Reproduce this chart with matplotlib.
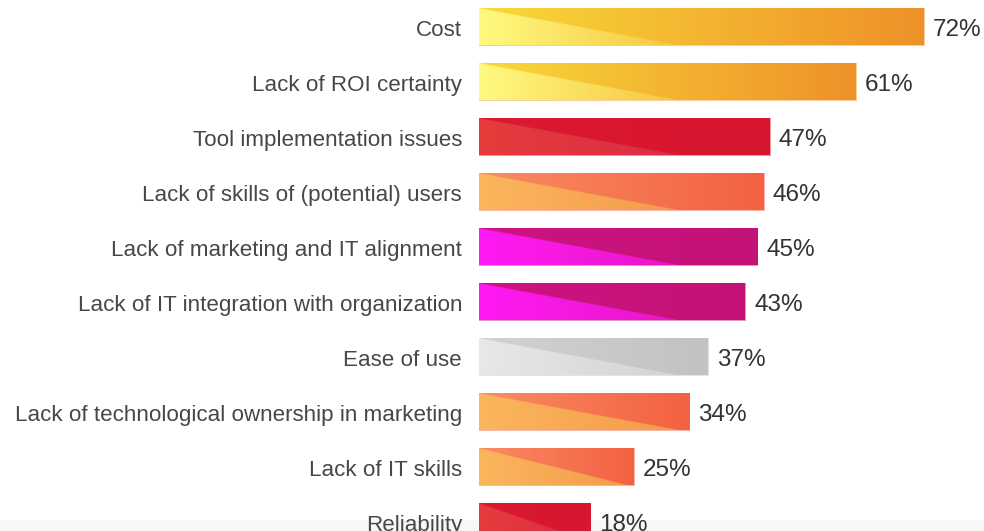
import numpy as np
import matplotlib.pyplot as plt
from matplotlib.colors import to_rgb
from matplotlib.patches import Rectangle

labels = ['Cost', 'Lack of ROI certainty', 'Tool implementation issues',
          'Lack of skills of (potential) users', 'Lack of marketing and IT alignment',
          'Lack of IT integration with organization', 'Ease of use',
          'Lack of technological ownership in marketing', 'Lack of IT skills',
          'Reliability']
values = [72, 61, 47, 46, 45, 43, 37, 34, 25, 18]
groups = ['yellow', 'yellow', 'red', 'peach', 'magenta', 'magenta', 'gray',
          'peach', 'peach', 'red']

# (topo inicio, topo fim, triangulo inicio, triangulo fim)
palette = {
    'yellow': ('#f9d93a', '#ee9128', '#fffa80', '#f6c640'),
    'red': ('#da1a30', '#d7162f', '#e63c3b', '#dc2c46'),
    'peach': ('#f98c62', '#f36142', '#fbb65c', '#f59b4c'),
    'magenta': ('#cd1282', '#c31377', '#ff1af4', '#e818c6'),
    'gray': ('#d2d2d2', '#c2c2c2', '#e8e8e8', '#d3d3d3'),
}

plt.rcParams['font.family'] = ['Liberation Sans', 'DejaVu Sans']

fig = plt.figure(figsize=(9.84, 5.31), dpi=100)
ax = fig.add_axes([479/984, 0, 1 - 479/984, 1])

# faixa clara no rodape
fig.patches.append(Rectangle((0, 0), 1, 11/531, transform=fig.transFigure,
                             facecolor='#f7f7f7', edgecolor='none', zorder=-1))

h = 0.655
dy = 0.06  # texto um pouco abaixo do centro da barra
for i, (lab, v, g) in enumerate(zip(labels, values, groups)):
    up0, up1, lo0, lo1 = [np.array(to_rgb(c)) for c in palette[g]]
    ncol = int(v*6.18*3)
    nrow = 90
    u = np.linspace(0, v, ncol)[None, :]
    t = np.linspace(0, 1, nrow)[:, None]
    D = min(32.0, 0.95*v)
    fu = (u/v)[..., None]
    upper = up0*(1 - fu) + up1*fu
    fl = np.clip(u/D, 0, 1)[..., None]
    lower = lo0*(1 - fl) + lo1*fl
    # borda suave da diagonal
    m = np.clip((D*t - u)/0.35 + 0.5, 0, 1)[..., None]
    img = upper*(1 - m) + lower*m
    img = np.broadcast_to(img, (nrow, ncol, 3))

    halo = Rectangle((0, i - h/2 - 0.02), v + 0.2, h + 0.04,
                     facecolor=tuple(up1), alpha=0.45, edgecolor='none', zorder=1)
    ax.add_patch(halo)
    ax.imshow(img, extent=[0, v, i + h/2, i - h/2], aspect='auto',
              interpolation='bilinear', zorder=2)
    ax.text(v + 1.5, i + dy, f'{v}%', va='center', ha='left', fontsize=17.5,
            color='#333333')
    ax.text(-17/6.18, i + dy, lab, va='center', ha='right', fontsize=16.1,
            color='#474747')

ax.set_xlim(0, (984 - 479)/6.18)
ax.set_ylim((531 - 27)/55, -27/55)
ax.set_xticks([])
ax.set_yticks([])
for s in ax.spines.values():
    s.set_visible(False)
ax.patch.set_alpha(0)

plt.savefig('out.png', dpi=100)
